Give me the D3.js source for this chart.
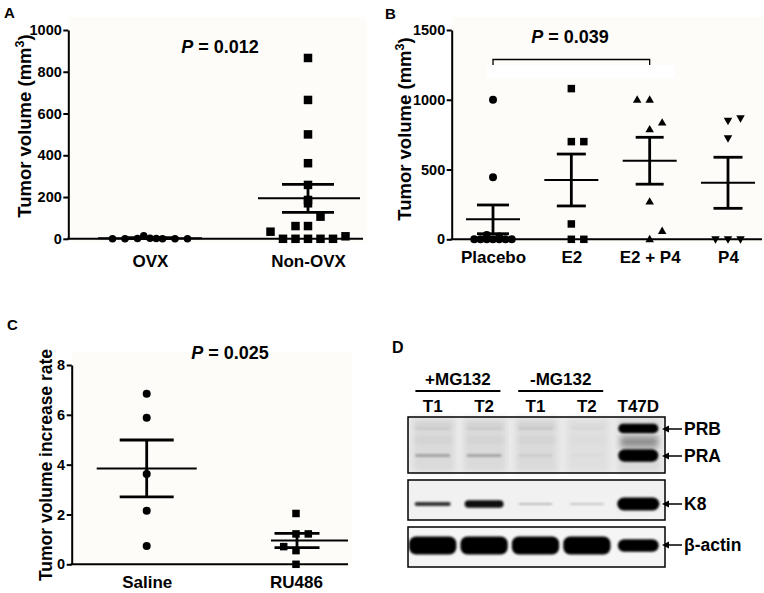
<!DOCTYPE html>
<html><head><meta charset="utf-8">
<script src="https://cdn.jsdelivr.net/npm/d3@7"></script>
<style>
body{margin:0;background:#fff}
text{font-family:"Liberation Sans",Arial,Helvetica,sans-serif;font-weight:bold;fill:#000}
</style>
</head><body>
<script>
// ---------- Panel A data ----------
const catsA = ["OVX", "Non-OVX"];
const ovxVals = [0, 0, 2, 15, 3, 2, 0, 0, 0];
const ovxSlots = [-3, -2, -1, -0.5, 0, 0.5, 1, 2, 3];
const nonOvxVals = [866, 665, 500, 362, 258, 186, 170, 106, 61, 61, 34, 12, 0, 0, 0, 0, 0];
const nonOvxSlots = [0, 0, 0, 0, 0, 0, 0, 1, -1, 0, -3, 3, -2, -1, 0, 1, 2];
const meanA = [3, 194];
const semA = [2, 67];
const ticksA = [0, 200, 400, 600, 800, 1000];
const pValueA = "0.012";

// ---------- Panel B data ----------
const catsB = ["Placebo", "E2", "E2 + P4", "P4"];
const placeboVals = [1000, 445, 30, 20, 0, 0, 0, 0, 0, 0, 0];
const placeboSlots = [0, 0, -0.5, 0.5, -1.5, -1, -0.5, 0, 0.5, 1, 1.5];
const e2Vals = [1080, 700, 700, 110, 0, 0];
const e2Slots = [0, 0, 1, 0, 0, 1];
const e2p4Vals = [1000, 1000, 836, 788, 270, 60, 0];
const e2p4Slots = [-1, 0, 1, 0, 0, 1, 0];
const p4Vals = [850, 867, 724, 0, 0, 0];
const p4Slots = [0, 1, 0, -1, 0, 1];
const meanB = [143, 425, 563, 405];
const semB = [103, 186, 168, 183];
const ticksB = [0, 500, 1000, 1500];
const pValueB = "0.039";

// ---------- Panel C data ----------
const catsC = ["Saline", "RU486"];
const salineVals = [6.85, 5.88, 3.62, 2.15, 0.73];
const salineSlots = [0, 0, 0, 0, 0];
const ru486Vals = [2.04, 1.22, 1.22, 0.71, 0.55, 0];
const ru486Slots = [0, 0, 1, -1, 0, 0];
const meanC = [3.85, 0.955];
const semC = [1.14, 0.285];
const ticksC = [0, 2, 4, 6, 8];
const pValueC = "0.025";

// ---------- Panel D data ----------
const laneLabels = ["T1", "T2", "T1", "T2", "T47D"];
const treatGroups = ["+MG132", "-MG132"];
const treatLanes = [[0, 1], [2, 3]];
const blotTargets = ["PRB", "PRA", "K8", "β-actin"];
const prbLevel = [0.10, 0.10, 0.12, 0.05, 1.0];
const praLevel = [0.38, 0.36, 0.12, 0.05, 1.0];
const k8Level = [0.80, 0.92, 0.30, 0.26, 1.0];
const actinLevel = [1, 1, 1, 1, 0.93];

// =====================================================
const W = 764, H = 593;
const FONT = '"Liberation Sans",Arial,Helvetica,sans-serif';
const svg = d3.select("body").append("svg").attr("width", W).attr("height", H);
const defs = svg.append("defs");
defs.append("filter").attr("id", "blur").attr("x", "-20%").attr("y", "-60%").attr("width", "140%").attr("height", "220%")
  .append("feGaussianBlur").attr("stdDeviation", 1.1);
defs.append("filter").attr("id", "blur2").attr("x", "-20%").attr("y", "-20%").attr("width", "140%").attr("height", "140%")
  .append("feGaussianBlur").attr("stdDeviation", 3);

function symbolPath(shape, s) {
  if (shape === "circle") return d3.symbol(d3.symbolCircle, Math.PI * (s / 2) * (s / 2))();
  if (shape === "square") return d3.symbol(d3.symbolSquare, s * s)();
  const h = s * 0.87, w = s / 2;
  if (shape === "up") return `M0,${-h * 0.6}L${w},${h * 0.4}L${-w},${h * 0.4}Z`;
  return `M0,${h * 0.6}L${w},${-h * 0.4}L${-w},${-h * 0.4}Z`;
}

function pText(g, x, y, val, size) {
  const t = g.append("text").attr("x", x).attr("y", y).attr("text-anchor", "middle").style("font-size", size + "px");
  t.append("tspan").style("font-style", "italic").text("P");
  t.append("tspan").text(" = " + val);
}

function yTitle(g, x, y, size, main, sup) {
  const t = g.append("text").attr("transform", `translate(${x},${y}) rotate(-90)`)
    .attr("text-anchor", "middle").style("font-size", size + "px");
  t.append("tspan").text(main);
  if (sup) {
    t.append("tspan").attr("dy", -size * 0.38).style("font-size", (size * 0.68) + "px").text(sup);
    t.append("tspan").attr("dy", size * 0.38).text(")");
  }
}

function styleTicks(sel, size) {
  sel.attr("font-family", null).attr("font-size", null);
  sel.selectAll(".tick text").style("font-size", size + "px").style("font-family", FONT)
    .style("font-weight", "bold").attr("fill", "#000");
}

function scatterPanel(o) {
  const g = svg.append("g");
  const y = d3.scaleLinear().domain([o.ticks[0], o.ticks[o.ticks.length - 1]]).range([o.yBottom, o.yTop]);
  const x = d3.scalePoint().domain(o.cats).range(o.xRange);

  g.append("rect").attr("x", o.axisX).attr("y", o.bgTop)
    .attr("width", o.axisEnd - o.axisX + 4).attr("height", o.yBottom - o.bgTop + 4).attr("fill", "#fdfcf9");
  if (o.extra) o.extra(g, x, y);

  const ya = g.append("g").attr("transform", `translate(${o.axisX},0)`)
    .call(d3.axisLeft(y).tickValues(o.ticks).tickFormat(d3.format("d")).tickSize(5).tickSizeOuter(0).tickPadding(1.5));
  ya.select(".domain").attr("stroke-width", 2).attr("stroke", "#000");
  ya.selectAll(".tick line").attr("stroke-width", 2).attr("stroke", "#000");
  styleTicks(ya, 14.5);

  g.append("line").attr("x1", o.axisX - 1).attr("x2", o.axisEnd).attr("y1", o.yBottom).attr("y2", o.yBottom)
    .attr("stroke", "#000").attr("stroke-width", 2);

  const xa = g.append("g").attr("transform", `translate(0,${o.yBottom})`)
    .call(d3.axisBottom(x).tickSize(0).tickPadding(o.xPad));
  xa.select(".domain").remove();
  styleTicks(xa, 17);

  o.groups.forEach((gr, i) => {
    const cx = x(o.cats[i]);
    g.append("g").selectAll("path").data(gr.vals).join("path")
      .attr("d", symbolPath(gr.shape, gr.size))
      .attr("transform", (d, j) => `translate(${cx + gr.slots[j] * o.slotW},${y(d)})`)
      .attr("fill", "#000");
  });

  o.cats.forEach((c, i) => {
    const cx = x(c) + (o.barShift ? o.barShift[i] : 0);
    const m = o.means[i], s = o.sems[i];
    const mh = o.meanHalf[i], ch = o.capHalf[i];
    g.append("line").attr("x1", cx - mh[0]).attr("x2", cx + mh[1]).attr("y1", y(m)).attr("y2", y(m))
      .attr("stroke", "#000").attr("stroke-width", 2);
    g.append("line").attr("x1", cx).attr("x2", cx).attr("y1", y(m + s)).attr("y2", y(m - s))
      .attr("stroke", "#000").attr("stroke-width", 2.8);
    [m + s, m - s].forEach(v => g.append("line").attr("x1", cx - ch).attr("x2", cx + ch)
      .attr("y1", y(v)).attr("y2", y(v)).attr("stroke", "#000").attr("stroke-width", 2.8));
  });
  return { g, x, y };
}

// ---------- Panel A ----------
scatterPanel({
  cats: catsA, ticks: ticksA, yTop: 30, yBottom: 238.8, bgTop: 17, axisX: 68.3, axisEnd: 363,
  xRange: [150, 308], xPad: 16, slotW: 12.5,
  groups: [
    { vals: ovxVals, slots: ovxSlots, shape: "circle", size: 7.5 },
    { vals: nonOvxVals, slots: nonOvxSlots, shape: "square", size: 8.5 }
  ],
  means: meanA, sems: semA, meanHalf: [[52, 52], [50, 52]], capHalf: [26, 26]
});
svg.append("text").attr("x", 4).attr("y", 18).style("font-size", "15px").text("A");
yTitle(svg, 31, 126, 18.5, "Tumor volume (mm", "3");
pText(svg, 220, 53, pValueA, 18);

// ---------- Panel B ----------
const pb = scatterPanel({
  cats: catsB, ticks: ticksB, yTop: 30, yBottom: 239.3, bgTop: 17, axisX: 451.7, axisEnd: 762,
  xRange: [493, 728], xPad: 12, slotW: 12.5,
  groups: [
    { vals: placeboVals, slots: placeboSlots, shape: "circle", size: 8 },
    { vals: e2Vals, slots: e2Slots, shape: "square", size: 7.5 },
    { vals: e2p4Vals, slots: e2p4Slots, shape: "up", size: 8.5 },
    { vals: p4Vals, slots: p4Slots, shape: "down", size: 8.5 }
  ],
  means: meanB, sems: semB, meanHalf: [[27, 27], [27, 27], [27, 27], [27, 27]], capHalf: [16, 14.5, 14, 14.5],
  extra: (g, x, y) => {
    g.append("rect").attr("x", 487).attr("y", 65).attr("width", 188).attr("height", 13).attr("fill", "#fff");
  }
});
svg.append("text").attr("x", 385).attr("y", 19).style("font-size", "15px").text("B");
yTitle(svg, 411, 129, 18.5, "Tumor volume (mm", "3");
pText(svg, 570, 43, pValueB, 18);
{
  const x1 = pb.x(catsB[0]), x2 = pb.x(catsB[2]);
  svg.append("path").attr("d", `M${x1},65V59.5H${x2}V65`).attr("fill", "none").attr("stroke", "#000").attr("stroke-width", 1.3);
}

// ---------- Panel C ----------
scatterPanel({
  cats: catsC, ticks: ticksC, yTop: 365, yBottom: 564.3, bgTop: 352, axisX: 71.7, axisEnd: 348,
  xRange: [146.7, 296], xPad: 12, slotW: 12.3,
  groups: [
    { vals: salineVals, slots: salineSlots, shape: "circle", size: 8 },
    { vals: ru486Vals, slots: ru486Slots, shape: "square", size: 7.5 }
  ],
  means: meanC, sems: semC, meanHalf: [[50, 50], [26, 51]], capHalf: [27, 22.5], barShift: [0, 1]
});
svg.append("text").attr("x", 7).attr("y", 330).style("font-size", "15px").text("C");
yTitle(svg, 52, 465, 17.5, "Tumor volume increase rate");
pText(svg, 230, 359, pValueC, 18);

// ---------- Panel D (western blot) ----------
{
  const g = svg.append("g");
  const lx = d3.scaleBand().domain(d3.range(laneLabels.length)).range([408, 665]);
  const bw = lx.bandwidth();
  const cx = i => lx(i) + bw / 2;

  g.append("text").attr("x", 392).attr("y", 353).style("font-size", "16px").text("D");

  treatGroups.forEach((name, k) => {
    const c = (cx(treatLanes[k][0]) + cx(treatLanes[k][1])) / 2 - 1.5;
    g.append("text").attr("x", c).attr("y", 385).attr("text-anchor", "middle").style("font-size", "17px").text(name);
    g.append("line").attr("x1", c - 42.5).attr("x2", c + 42.5).attr("y1", 391).attr("y2", 391)
      .attr("stroke", "#000").attr("stroke-width", 2);
  });
  laneLabels.forEach((l, i) => {
    g.append("text").attr("x", cx(i) - 1).attr("y", 412).attr("text-anchor", "middle").style("font-size", "17px").text(l);
  });

  const boxes = [
    { y0: 417, y1: 473, fill: "#ececec" },
    { y0: 480, y1: 520, fill: "#f1f1f1" },
    { y0: 527, y1: 567, fill: "#f5f5f5" }
  ];
  boxes.forEach(b => g.append("rect").attr("x", 408).attr("y", b.y0).attr("width", 257).attr("height", b.y1 - b.y0).attr("fill", b.fill));
  const pr = g.append("g");
  d3.range(5).forEach(i => {
    pr.append("rect").attr("x", cx(i) - bw * 0.42).attr("y", 418).attr("width", bw * 0.84).attr("height", 54)
      .attr("fill", "#d7d7d7").attr("opacity", i === 3 ? 0.6 : 0.85).attr("filter", "url(#blur2)");
    [426, 440].forEach(yy => {
      pr.append("rect").attr("x", cx(i) - bw * 0.38).attr("y", yy - 3).attr("width", bw * 0.76).attr("height", 6)
        .attr("rx", 3).attr("fill", "#000").attr("opacity", i === 3 ? 0.02 : 0.045).attr("filter", "url(#blur2)");
    });
  });
  g.append("rect").attr("x", cx(4) - bw * 0.36).attr("y", 437).attr("width", bw * 0.72).attr("height", 10)
    .attr("fill", "#444").attr("opacity", 0.5).attr("filter", "url(#blur2)");

  function bands(levels, yc, hFn, wFn, opFn) {
    levels.forEach((lv, i) => {
      const h = hFn(lv), w = wFn(lv);
      g.append("rect").attr("x", cx(i) - w / 2 - 1).attr("y", yc - h / 2).attr("width", w).attr("height", h)
        .attr("rx", Math.min(h / 2, 7)).attr("fill", "#000").attr("opacity", opFn(lv)).attr("filter", "url(#blur)");
    });
  }
  const op = lv => Math.min(1, Math.pow(lv, 1.3) * 1.05);
  bands(prbLevel, 428.5, lv => 2.5 + 7 * Math.pow(lv, 4), lv => bw * (0.68 + 0.1 * Math.pow(lv, 6)), op);
  bands(praLevel, 455.5, lv => 2.5 + 10 * Math.pow(lv, 4), lv => bw * (0.68 + 0.1 * Math.pow(lv, 6)), op);
  bands(k8Level, 504, lv => 2 + 11 * Math.pow(lv, 8), lv => bw * (0.66 + 0.16 * Math.pow(lv, 6)), op);
  bands(actinLevel, 545.5, lv => 18 * Math.pow(lv, 5), lv => bw * 0.92 * Math.pow(lv, 2), lv => 1);

  boxes.forEach(b => g.append("rect").attr("x", 408).attr("y", b.y0).attr("width", 257).attr("height", b.y1 - b.y0)
    .attr("fill", "none").attr("stroke", "#000").attr("stroke-width", 1.5));

  const rowY = [429, 456, 504, 545];
  blotTargets.forEach((t, k) => {
    const yy = rowY[k];
    g.append("line").attr("x1", 667).attr("x2", 682).attr("y1", yy).attr("y2", yy).attr("stroke", "#000").attr("stroke-width", 1.5);
    g.append("path").attr("d", `M662,${yy}L669,${yy - 3.5}L669,${yy + 3.5}Z`).attr("fill", "#000");
    g.append("text").attr("x", 684).attr("y", yy).attr("dy", "0.36em").style("font-size", "17.5px").text(t);
  });
}
</script>
</body></html>
